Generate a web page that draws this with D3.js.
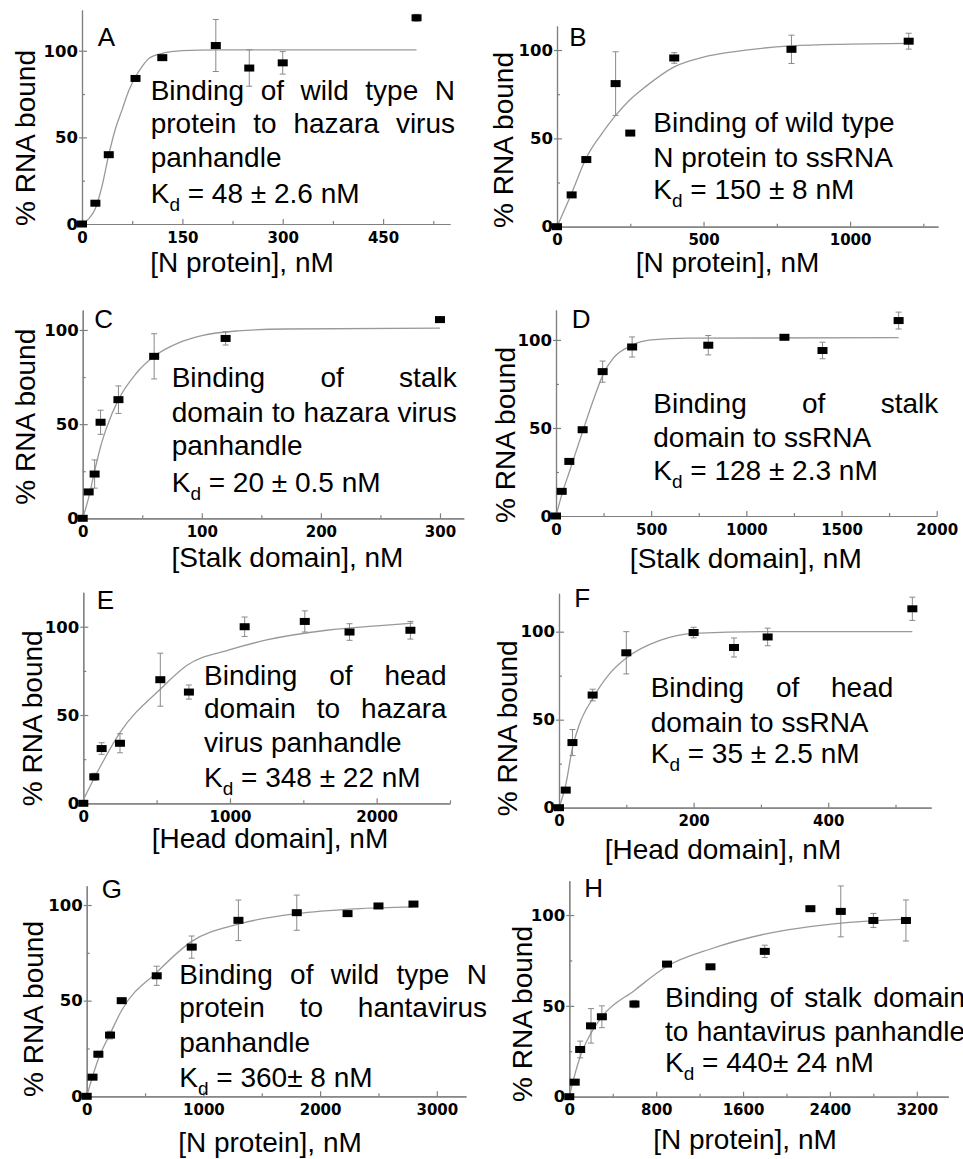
<!DOCTYPE html>
<html>
<head>
<meta charset="utf-8">
<script src="https://cdn.jsdelivr.net/npm/d3@7"></script>
<style>
  body { margin: 0; background: #fff; }
</style>
</head>
<body>
<div id="chart"></div>
<script>
// panel ids, axis titles, annotation text
const panelIds = ["A", "B", "C", "D", "E", "F", "G", "H"];
const xTitles = ["[N protein], nM", "[N protein], nM", "[Stalk domain], nM", "[Stalk domain], nM",
                 "[Head domain], nM", "[Head domain], nM", "[N protein], nM", "[N protein], nM"];
const yTitle = "% RNA bound";

const linesA = ["Binding of wild type N", "protein to hazara virus", "panhandle"];
const linesB = ["Binding of wild type", "N protein to ssRNA"];
const linesC = ["Binding of stalk", "domain to hazara virus", "panhandle"];
const linesD = ["Binding of stalk", "domain to ssRNA"];
const linesE = ["Binding of head", "domain to hazara", "virus panhandle"];
const linesF = ["Binding of head", "domain to ssRNA"];
const linesG = ["Binding of wild type N", "protein to hantavirus", "panhandle"];
const linesH = ["Binding of stalk domain", "to hantavirus panhandle"];
const kdValues = [" = 48 ± 2.6 nM", " = 150 ± 8 nM", " = 20 ± 0.5 nM", " = 128 ± 2.3 nM",
                  " = 348 ± 22 nM", " = 35 ± 2.5 nM", " = 360± 8 nM", " = 440± 24 nM"];

// measured points: [concentration nM, % bound, error]
const ptsA = [[0,0,0],[20,12,1],[40,40,1],[80,84,1.5],[120,96,1],[200,103,15],[250,90,10.5],[300,93,6.5],[500,119,2]];
const ptsB = [[0,0,0],[50,18,1],[100,38,1],[200,81,18],[250,53,1],[400,95.5,3],[800,100.4,8],[1200,105,4.5]];
const ptsC = [[0,0,0],[5,14,1],[10,23.5,7.5],[15,51,6.4],[30,63,7.3],[60,86,12],[120,95.5,3.5],[300,105.5,1.5]];
const ptsD = [[0,0,0],[30,14,1],[70,31,1],[140,49,1],[245,82,6],[400,96,5.7],[800,97,5.5],[1200,101.5,1],[1400,94,4.7],[1800,111,4.8]];
const ptsE = [[0,0,0],[75,15,2],[125,31,3.3],[250,34,5.4],[525,70,15],[720,63,4],[1100,100,5.5],[1510,103,6],[1815,97,4.7],[2230,98,5]];
const ptsF = [[0,0,0],[10,10,1],[20,37,7.4],[50,64,3.3],[100,88,12],[200,99.5,3],[260,91,5.4],[310,97,5],[525,113,6.6]];
const ptsG = [[0,0,0],[50,10,1],[100,22,1.5],[200,32,2],[300,50,1],[600,63,5],[900,78,5.8],[1300,92,10.6],[1800,96,9.2],[2235,95.5,1.5],[2500,99.5,1],[2800,100.5,1]];
const ptsH = [[0,0,0],[50,8,1],[100,26,4.6],[200,39,9.5],[300,44,6],[600,51,2],[900,73,1],[1300,71.5,1],[1800,80,3.4],[2220,103.5,1],[2500,102,14],[2800,97,3.9],[3100,97,11.3]];

// fitted curves
const fitA = [[0,0],[10,3],[20,9],[30,22],[40,40],[50,55],[60,66],[70,77],[80,85],[90,91],[100,95.5],[120,98.5],[150,100],[200,100.5],[500,100.5]];
const fitB = [[0,0],[50,19],[100,39],[150,52],[200,63],[250,72],[300,79],[400,90.5],[500,96],[600,99],[800,102.3],[1000,103.3],[1200,103.8]];
const fitC = [[0,0],[5,11],[10,25],[15,38],[20,48],[30,63],[45,77],[60,86],[80,93],[100,97],[130,99.5],[170,100.5],[300,101]];
const fitD = [[0,0],[30,12],[70,25],[140,48],[200,67],[250,81],[300,89.5],[400,97],[500,100],[700,101],[1800,101.3]];
const fitE = [[0,2],[130,23],[250,40],[530,65],[705,78],[1000,87],[1250,92.5],[1660,98],[2000,100.5],[2250,102]];
const fitF = [[0,0],[10,13],[20,34],[30,47],[50,62],[75,76],[100,85],[150,95],[200,99],[300,100],[525,100]];
const fitG = [[0,0],[100,19.5],[200,32.6],[300,45],[600,64.8],[900,81],[1300,90],[1800,95.5],[2300,98],[2800,99]];
const fitH = [[0,0],[50,12],[100,22],[200,35],[300,44],[600,58.5],[900,71.8],[1300,81.3],[1800,89.5],[2500,95.6],[3100,97.8]];

// tick values
const xTicksA = [0,150,300,450],            xMinorA = [75,225,375,525];
const xTicksB = [0,500,1000],               xMinorB = [250,750,1250];
const xTicksC = [0,100,200,300],            xMinorC = [50,150,250];
const xTicksD = [0,500,1000,1500,2000],     xMinorD = [250,750,1250,1750];
const xTicksE = [0,1000,2000],              xMinorE = [500,1500,2500];
const xTicksF = [0,200,400],                xMinorF = [100,300,500];
const xTicksG = [0,1000,2000,3000],         xMinorG = [500,1500,2500];
const xTicksH = [0,800,1600,2400,3200],     xMinorH = [400,1200,2000,2800];
const yTicks = [0,50,100], yMinor = [25,75];

const series = {
  A: { pts: ptsA, fit: fitA, xt: xTicksA, xm: xMinorA, lines: linesA },
  B: { pts: ptsB, fit: fitB, xt: xTicksB, xm: xMinorB, lines: linesB },
  C: { pts: ptsC, fit: fitC, xt: xTicksC, xm: xMinorC, lines: linesC },
  D: { pts: ptsD, fit: fitD, xt: xTicksD, xm: xMinorD, lines: linesD },
  E: { pts: ptsE, fit: fitE, xt: xTicksE, xm: xMinorE, lines: linesE },
  F: { pts: ptsF, fit: fitF, xt: xTicksF, xm: xMinorF, lines: linesF },
  G: { pts: ptsG, fit: fitG, xt: xTicksG, xm: xMinorG, lines: linesG },
  H: { pts: ptsH, fit: fitH, xt: xTicksH, xm: xMinorH, lines: linesH }
};

// layout (pixels) for each panel
const layout = {
  A: { x0: 82,    x1: 450,   xMax: 550,  y0: 224,    y1: 10,    yMax: 123.5,
       tl: 150.7, tr: 455,   base: [100, 133.3, 166.7], kd: 203.3, just: [1,1,0],
       xt: [242, 272],    yt: [35, 138],    lab: [97.7, 45.7] },
  B: { x0: 557,   x1: 938,   xMax: 1300, y0: 226.7,  y1: 26,    yMax: 113.6,
       tl: 653.3, tr: null,  base: [131.7, 166.7], kd: 199, just: [0,0],
       xt: [727.5, 271.7], yt: [513.3, 140], lab: [569.3, 45.7] },
  C: { x0: 82.7,  x1: 463.8, xMax: 320,  y0: 518.3,  y1: 310,   yMax: 110.6,
       tl: 171.7, tr: 456.7, base: [386.7, 421.7, 455], kd: 491.7, just: [1,1,0],
       xt: [287.5, 567],  yt: [35, 416.7],  lab: [94.3, 328.3] },
  D: { x0: 556,   x1: 936.7, xMax: 2000, y0: 516,    y1: 310,   yMax: 117,
       tl: 653.3, tr: 938.3, base: [413, 446.7], kd: 480, just: [1,0],
       xt: [745.8, 568],  yt: [515, 435],   lab: [571.7, 327.7] },
  E: { x0: 83.3,  x1: 450,   xMax: 2500, y0: 803.3,  y1: 592.3, yMax: 119.5,
       tl: 204,   tr: 446.7, base: [685, 718.3, 751.7], kd: 786.7, just: [1,1,0],
       xt: [270, 848.3],  yt: [41.7, 718.3], lab: [96.7, 609.3] },
  F: { x0: 559,   x1: 931.2, xMax: 553,  y0: 807.7,  y1: 593.3, yMax: 121.8,
       tl: 650.7, tr: 893.3, base: [696.7, 731.7], kd: 763.3, just: [1,0],
       xt: [723, 859],    yt: [516.7, 728.3], lab: [574.3, 606.7] },
  G: { x0: 86.7,  x1: 466,   xMax: 3250, y0: 1096.3, y1: 885.7, yMax: 110.1,
       tl: 179.3, tr: 487,   base: [984, 1017.3, 1051.7], kd: 1087.3, just: [1,1,0],
       xt: [270, 1152],   yt: [43.3, 1009], lab: [101.7, 898.3] },
  H: { x0: 569.3, x1: 948.3, xMax: 3490, y0: 1096.7, y1: 880.7, yMax: 118.9,
       tl: 665,   tr: 965,   base: [1007.3, 1040.7], kd: 1072.3, just: [1,1],
       xt: [745, 1149],   yt: [531.7, 1014], lab: [584.3, 896.7] }
};

const W = 963, H = 1159;
const textFont = "'Liberation Sans', Arial, sans-serif";
const tickFont = "'DejaVu Sans', Verdana, sans-serif";
const axisColor = "#808080";

const svg = d3.select("#chart").append("svg")
  .attr("width", W)
  .attr("height", H)
  .style("display", "block")
  .style("font-family", textFont);

// place words so the line fills [left, right]
function justifiedLine(g, str, left, right, y) {
  const words = str.split(" ");
  const nodes = words.map(w => g.append("text")
    .attr("y", y)
    .attr("font-size", 28)
    .text(w));
  const widths = nodes.map(n => n.node().getComputedTextLength());
  const gap = (right - left - d3.sum(widths)) / (words.length - 1);
  let cx = left;
  nodes.forEach((n, i) => {
    n.attr("x", cx);
    cx += widths[i] + gap;
  });
}

panelIds.forEach((id, idx) => {
  const s = series[id], L = layout[id];
  const g = svg.append("g").attr("class", "panel-" + id);

  const x = d3.scaleLinear().domain([0, L.xMax]).range([L.x0, L.x1]);
  const y = d3.scaleLinear().domain([0, L.yMax]).range([L.y0, L.y1]);

  // minor ticks
  g.append("g")
    .attr("transform", `translate(0,${L.y0})`)
    .call(d3.axisBottom(x).tickValues(s.xm).tickSize(-3).tickSizeOuter(0).tickFormat(""));
  g.append("g")
    .attr("transform", `translate(${L.x0},0)`)
    .call(d3.axisLeft(y).tickValues(yMinor).tickSize(-3).tickSizeOuter(0).tickFormat(""));

  // major ticks
  const xa = g.append("g")
    .attr("transform", `translate(0,${L.y0})`)
    .call(d3.axisBottom(x).tickValues(s.xt).tickSizeInner(-5).tickSizeOuter(0).tickPadding(8).tickFormat(d3.format("d")));
  const ya = g.append("g")
    .attr("transform", `translate(${L.x0},0)`)
    .call(d3.axisLeft(y).tickValues(yTicks).tickSizeInner(-5).tickSizeOuter(0).tickPadding(4).tickFormat(d3.format("d")));
  ya.selectAll(".tick line").attr("x1", -3).attr("x2", 5);

  g.selectAll(".domain, .tick line")
    .attr("stroke", axisColor)
    .attr("stroke-width", 1.2);
  xa.selectAll("text")
    .attr("font-family", tickFont)
    .attr("font-weight", "bold")
    .attr("font-size", 15)
    .attr("fill", "#000");
  ya.selectAll("text")
    .attr("font-family", tickFont)
    .attr("font-weight", "bold")
    .attr("font-size", 16.5)
    .attr("fill", "#000");

  // fitted curve
  g.append("path")
    .datum(s.fit)
    .attr("fill", "none")
    .attr("stroke", "#999")
    .attr("stroke-width", 1.3)
    .attr("d", d3.line().x(d => x(d[0])).y(d => y(d[1])).curve(d3.curveMonotoneX));

  // error bars
  const eb = g.append("g")
    .attr("stroke", "#8a8a8a")
    .attr("stroke-width", 1);
  eb.selectAll(".bar")
    .data(s.pts.filter(d => d[2] > 0))
    .enter()
    .append("line")
    .attr("x1", d => x(d[0]))
    .attr("x2", d => x(d[0]))
    .attr("y1", d => y(d[1] - d[2]))
    .attr("y2", d => y(d[1] + d[2]));
  eb.selectAll(".cap")
    .data(s.pts.filter(d => d[2] > 0).flatMap(d => [[d[0], d[1] - d[2]], [d[0], d[1] + d[2]]]))
    .enter()
    .append("line")
    .attr("x1", d => x(d[0]) - 3)
    .attr("x2", d => x(d[0]) + 3)
    .attr("y1", d => y(d[1]))
    .attr("y2", d => y(d[1]));

  // square markers
  g.selectAll(".pt")
    .data(s.pts)
    .enter()
    .append("rect")
    .attr("x", d => x(d[0]) - 5)
    .attr("y", d => y(d[1]) - 3.5)
    .attr("width", 10)
    .attr("height", 7)
    .attr("fill", "#000");

  // panel letter
  g.append("text")
    .attr("x", L.lab[0])
    .attr("y", L.lab[1])
    .attr("font-size", 26)
    .text(id);

  // axis titles
  g.append("text")
    .attr("x", L.xt[0])
    .attr("y", L.xt[1])
    .attr("text-anchor", "middle")
    .attr("font-size", 28)
    .text(xTitles[idx]);
  g.append("text")
    .attr("transform", `translate(${L.yt[0]},${L.yt[1]}) rotate(-90)`)
    .attr("text-anchor", "middle")
    .attr("font-size", 28)
    .text(yTitle);

  // annotation
  s.lines.forEach((line, i) => {
    if (L.just[i] && L.tr) {
      justifiedLine(g, line, L.tl, L.tr, L.base[i]);
    } else {
      g.append("text")
        .attr("x", L.tl)
        .attr("y", L.base[i])
        .attr("font-size", 28)
        .text(line);
    }
  });
  const kd = g.append("text")
    .attr("x", L.tl)
    .attr("y", L.kd)
    .attr("font-size", 28);
  kd.append("tspan").text("K");
  kd.append("tspan").attr("font-size", 19).attr("dy", 8).text("d");
  kd.append("tspan").attr("dy", -8).text(kdValues[idx]);
});
</script>
</body>
</html>
